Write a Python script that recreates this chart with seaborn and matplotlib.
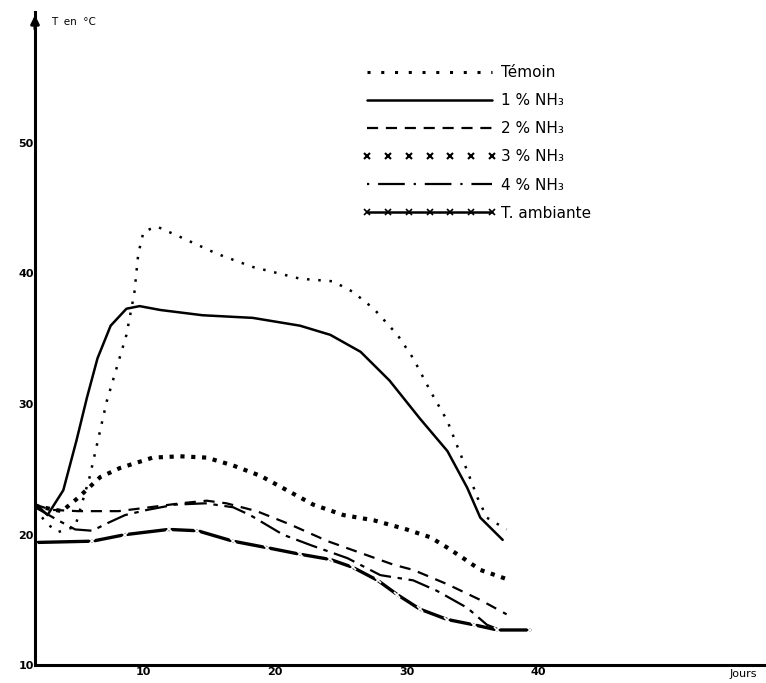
import matplotlib
matplotlib.use("Agg")
import matplotlib.pyplot as plt
from matplotlib.lines import Line2D
import numpy as np
import pandas as pd
import seaborn as sns

# =============================================================================
# Data: days / temperature in degC
# =============================================================================

temoin_days = [1.75, 2.7, 3.5, 4.8, 5.9, 7.2, 8.7, 9.3, 9.6, 10.0, 11.0, 13.0,
               15.6, 18.3, 21.9, 24.4, 25.9, 27.5, 29.3, 30.5, 31.8, 33.1,
               33.8, 34.6, 35.4, 36.1, 37.6]
temoin_temp = [22.0, 20.8, 20.2, 20.6, 24.4, 30.2, 35.3, 38.5, 41.5, 43.2, 43.6,
               42.7, 41.5, 40.5, 39.6, 39.4, 38.6, 37.3, 35.3, 33.5, 31.0, 28.7,
               26.9, 24.9, 22.8, 21.3, 20.4]

nh3_1_days = [1.75, 2.7, 3.9, 4.9, 5.7, 6.5, 7.5, 8.7, 9.7, 11.3, 14.5, 18.3,
              21.9, 24.2, 26.5, 28.7, 31.0, 33.1, 34.6, 35.6, 36.6, 37.3]
nh3_1_temp = [22.4, 21.5, 23.4, 27.2, 30.5, 33.5, 36.0, 37.3, 37.5, 37.2, 36.8,
              36.6, 36.0, 35.3, 34.0, 31.8, 28.9, 26.4, 23.6, 21.3, 20.3, 19.6]

nh3_2_days = [1.75, 3.0, 5.0, 8.1, 10.5, 12.8, 14.8, 16.3, 18.6, 21.1, 24.0,
              26.5, 29.0, 30.5, 33.1, 35.6, 37.6]
nh3_2_temp = [22.3, 21.9, 21.8, 21.8, 22.1, 22.4, 22.6, 22.4, 21.8, 20.8, 19.5,
              18.6, 17.7, 17.3, 16.2, 15.0, 13.9]

nh3_3_days = [1.75, 3.8, 5.0, 6.7, 8.2, 10.7, 12.8, 14.8, 16.8, 18.9, 20.9,
              22.9, 25.2, 27.5, 30.0, 31.8, 33.1, 34.3, 35.6, 37.6]
nh3_3_temp = [22.2, 21.8, 22.8, 24.4, 25.1, 25.9, 26.0, 25.9, 25.3, 24.5, 23.4,
              22.3, 21.5, 21.1, 20.4, 19.8, 19.0, 18.2, 17.3, 16.6]

nh3_4_days = [1.75, 3.5, 4.8, 6.1, 7.3, 8.6, 10.3, 12.4, 14.7, 16.8, 18.1,
              20.6, 22.7, 25.5, 28.0, 30.5, 32.3, 34.6, 36.1, 37.1]
nh3_4_temp = [22.1, 21.1, 20.4, 20.3, 20.9, 21.5, 21.9, 22.3, 22.4, 22.1, 21.5,
              20.0, 19.2, 18.2, 16.9, 16.5, 15.7, 14.4, 13.1, 12.7]

ambiante_days = [1.75, 6.1, 8.6, 11.9, 14.1, 16.8, 19.4, 21.9, 24.2, 25.9,
                 27.8, 29.3, 31.0, 33.1, 35.1, 36.9, 39.4]
ambiante_temp = [19.4, 19.5, 20.0, 20.4, 20.3, 19.5, 19.0, 18.5, 18.1, 17.5,
                 16.5, 15.4, 14.3, 13.5, 13.1, 12.7, 12.7]

labels = ["Témoin", "1 % NH₃", "2 % NH₃", "3 % NH₃", "4 % NH₃", "T. ambiante"]
y_ticks = [10, 20, 30, 40, 50]
x_ticks = [10, 20, 30, 40]

# =============================================================================
# Plot
# =============================================================================

sns.set_theme(style="white")
plt.rcParams["font.family"] = ["DejaVu Sans"]
plt.rcParams["text.color"] = "black"
plt.rcParams["xtick.color"] = "black"
plt.rcParams["ytick.color"] = "black"

fig = plt.figure(figsize=(7.66, 6.83), dpi=100)
ax = fig.add_axes([0.0457, 0.026, 0.954, 0.956])

series = [
    (temoin_days, temoin_temp, dict(linestyle=(0, (1, 3.5)), linewidth=1.8)),
    (nh3_1_days, nh3_1_temp, dict(linestyle="-", linewidth=1.8)),
    (nh3_2_days, nh3_2_temp, dict(linestyle=(0, (5, 3.5)), linewidth=1.6)),
    (nh3_3_days, nh3_3_temp, dict(linestyle=(0, (1, 1.6)), linewidth=3.0)),
    (nh3_4_days, nh3_4_temp, dict(linestyle=(0, (10, 3, 2, 3)), linewidth=1.6)),
    (ambiante_days, ambiante_temp,
     dict(linestyle="-", linewidth=2.4, marker="x", markersize=4, markeredgewidth=1.2)),
]

for (days, temp, style), lab in zip(series, labels):
    df = pd.DataFrame({"jours": days, "T": temp})
    sns.lineplot(data=df, x="jours", y="T", ax=ax, color="black", sort=False,
                 label=None, legend=False, **style)

ax.set_xlim(1.75, 57.3)
ax.set_ylim(10, 60)
ax.set_xticks(x_ticks)
ax.set_yticks(y_ticks)
ax.set_xlabel("")
ax.set_ylabel("")
ax.tick_params(axis="both", direction="in", length=3, width=1.5, labelsize=8,
               colors="black")
ax.tick_params(axis="y", pad=1)
ax.tick_params(axis="x", pad=1)
for lbl in ax.get_xticklabels() + ax.get_yticklabels():
    lbl.set_fontweight("bold")

for side in ["top", "right"]:
    ax.spines[side].set_visible(False)
for side in ["left", "bottom"]:
    ax.spines[side].set_linewidth(2.2)
    ax.spines[side].set_color("black")

# arrow at top of the y axis
ax.annotate("", xy=(0, 1.0), xycoords="axes fraction", xytext=(0, 0.97),
            arrowprops=dict(arrowstyle="-|>", color="black", lw=2.2,
                            mutation_scale=12), annotation_clip=False)
ax.text(0.022, 0.985, "T  en  °C", transform=ax.transAxes, fontsize=7.5,
        ha="left", va="center")
ax.text(0.951, -0.006, "Jours", transform=ax.transAxes, fontsize=8,
        ha="left", va="top", clip_on=False)

handles = [
    Line2D([], [], color="black", linestyle=(0, (1, 3.5)), linewidth=2.2),
    Line2D([], [], color="black", linestyle="-", linewidth=1.8),
    Line2D([], [], color="black", linestyle=(0, (5, 3.5)), linewidth=1.6),
    Line2D([], [], color="black", linestyle="none", marker="x", markersize=5,
           markeredgewidth=1.5),
    Line2D([], [], color="black", linestyle=(0, (1, 4, 12, 4)), linewidth=1.6),
    Line2D([], [], color="black", linestyle="-", linewidth=1.8, marker="x",
           markersize=5, markeredgewidth=1.2),
]
fig.legend(handles=handles, labels=labels, loc="upper left",
           bbox_to_anchor=(0.455, 0.925), frameon=False, fontsize=11,
           handlelength=8.8, handletextpad=0.3, labelspacing=0.86, numpoints=7)

fig.savefig("out.png", dpi=100)
